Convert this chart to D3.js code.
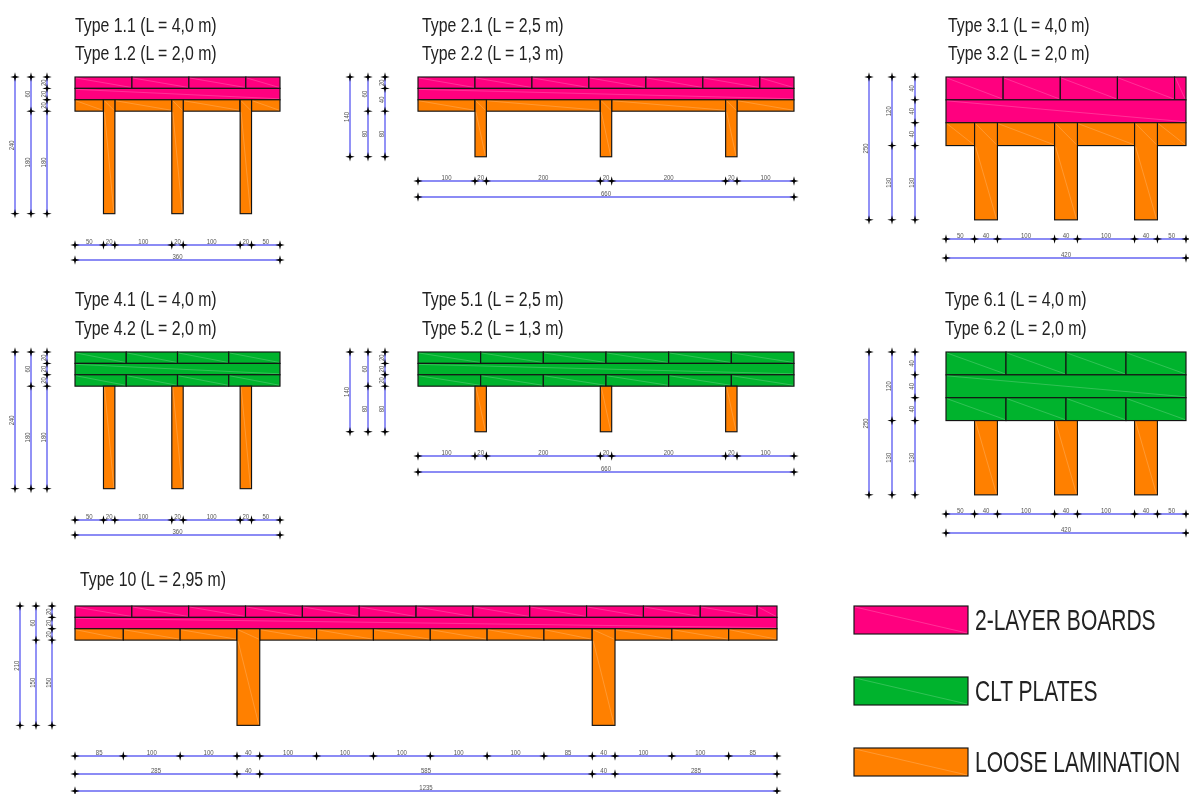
<!DOCTYPE html>
<html>
<head>
<meta charset="utf-8">
<script src="https://cdn.jsdelivr.net/npm/d3@7"></script>
<style>
  html, body { margin: 0; padding: 0; background: #fff; }
  svg { display: block; filter: blur(0.4px); }
  text { font-family: "Liberation Sans", sans-serif; }
</style>
</head>
<body>
<svg id="chart" width="1189" height="794"></svg>
<script>
// ------------------------------------
// Section data (all values in mm, as dimensioned on the drawing)
// ------------------------------------
const PINK = "boards", GREEN = "clt", ORANGE = "lam";

const type1Titles = ["Type 1.1 (L = 4,0 m)", "Type 1.2 (L = 2,0 m)"];
const type1Layers = [[100, 100, 100, 60], [360], [50, 20, 100, 20, 100, 20, 50]];
const type1Thick = [20, 20, 20];
const type1Webs = [50, 170, 290];
const type1VDims = [[240], [60, 180], [20, 20, 20, 180]];
const type1HDims = [[50, 20, 100, 20, 100, 20, 50], [360]];

const type2Titles = ["Type 2.1 (L = 2,5 m)", "Type 2.2 (L = 1,3 m)"];
const type2Layers = [[100, 100, 100, 100, 100, 100, 60], [660], [100, 20, 200, 20, 200, 20, 100]];
const type2Thick = [20, 20, 20];
const type2Webs = [100, 320, 540];
const type2VDims = [[140], [60, 80], [20, 40, 80]];
const type2HDims = [[100, 20, 200, 20, 200, 20, 100], [660]];

const type3Titles = ["Type 3.1 (L = 4,0 m)", "Type 3.2 (L = 2,0 m)"];
const type3Layers = [[100, 100, 100, 100, 20], [420], [50, 40, 100, 40, 100, 40, 50]];
const type3Thick = [40, 40, 40];
const type3Webs = [50, 190, 330];
const type3VDims = [[250], [120, 130], [40, 40, 40, 130]];
const type3HDims = [[50, 40, 100, 40, 100, 40, 50], [420]];

const type4Titles = ["Type 4.1 (L = 4,0 m)", "Type 4.2 (L = 2,0 m)"];
const type4Layers = [[90, 90, 90, 90], [360], [90, 90, 90, 90]];
const type4Thick = [20, 20, 20];
const type4Webs = [50, 170, 290];
const type4VDims = [[240], [60, 180], [20, 20, 20, 180]];
const type4HDims = [[50, 20, 100, 20, 100, 20, 50], [360]];

const type5Titles = ["Type 5.1 (L = 2,5 m)", "Type 5.2 (L = 1,3 m)"];
const type5Layers = [[110, 110, 110, 110, 110, 110], [660], [110, 110, 110, 110, 110, 110]];
const type5Thick = [20, 20, 20];
const type5Webs = [100, 320, 540];
const type5VDims = [[140], [60, 80], [20, 20, 20, 80]];
const type5HDims = [[100, 20, 200, 20, 200, 20, 100], [660]];

const type6Titles = ["Type 6.1 (L = 4,0 m)", "Type 6.2 (L = 2,0 m)"];
const type6Layers = [[105, 105, 105, 105], [420], [105, 105, 105, 105]];
const type6Thick = [40, 40, 40];
const type6Webs = [50, 190, 330];
const type6VDims = [[250], [120, 130], [40, 40, 40, 130]];
const type6HDims = [[50, 40, 100, 40, 100, 40, 50], [420]];

const type10Titles = ["Type 10 (L = 2,95 m)"];
const type10Layers = [
  [100, 100, 100, 100, 100, 100, 100, 100, 100, 100, 100, 100, 35],
  [1235],
  [85, 100, 100, 40, 100, 100, 100, 100, 100, 85, 40, 100, 100, 85]
];
const type10Thick = [20, 20, 20];
const type10Webs = [285, 910];
const type10VDims = [[210], [60, 150], [20, 20, 20, 150]];
const type10HDims = [
  [85, 100, 100, 40, 100, 100, 100, 100, 100, 85, 40, 100, 100, 85],
  [285, 40, 585, 40, 285],
  [1235]
];

const legendLabels = ["2-LAYER BOARDS", "CLT PLATES", "LOOSE LAMINATION"];
const legendKinds = [PINK, GREEN, ORANGE];

// ------------------------------------
// Styles and layout
// ------------------------------------
const fills = { boards: "#ff007f", clt: "#00b32d", lam: "#ff8000" };
const ink = "#141414";
const dimBlue = "#6464f2";
const squeeze = 0.755; // the drawing's lettering is a narrow face

const sections = [
  { titles: type1Titles, layers: type1Layers, thick: type1Thick, webs: type1Webs, webW: 20, webTop: 40, kinds: [PINK, PINK, ORANGE],
    vDims: type1VDims, hDims: type1HDims, xr: [75, 280], top: 77, vx: [15, 31, 47], hy: [245, 260], tx: 75, ty: [32, 60] },
  { titles: type2Titles, layers: type2Layers, thick: type2Thick, webs: type2Webs, webW: 20, webTop: 40, kinds: [PINK, PINK, ORANGE],
    vDims: type2VDims, hDims: type2HDims, xr: [418, 794], top: 77, vx: [350, 368, 385], hy: [181, 197], tx: 422, ty: [32, 60] },
  { titles: type3Titles, layers: type3Layers, thick: type3Thick, webs: type3Webs, webW: 40, webTop: 80, kinds: [PINK, PINK, ORANGE],
    vDims: type3VDims, hDims: type3HDims, xr: [946, 1186], top: 77, vx: [869, 892, 915], hy: [239, 258], tx: 948, ty: [32, 60] },
  { titles: type4Titles, layers: type4Layers, thick: type4Thick, webs: type4Webs, webW: 20, webTop: 60, kinds: [GREEN, GREEN, GREEN],
    vDims: type4VDims, hDims: type4HDims, xr: [75, 280], top: 352, vx: [15, 31, 47], hy: [520, 535], tx: 75, ty: [306, 335] },
  { titles: type5Titles, layers: type5Layers, thick: type5Thick, webs: type5Webs, webW: 20, webTop: 60, kinds: [GREEN, GREEN, GREEN],
    vDims: type5VDims, hDims: type5HDims, xr: [418, 794], top: 352, vx: [350, 368, 385], hy: [456, 472], tx: 422, ty: [306, 335] },
  { titles: type6Titles, layers: type6Layers, thick: type6Thick, webs: type6Webs, webW: 40, webTop: 120, kinds: [GREEN, GREEN, GREEN],
    vDims: type6VDims, hDims: type6HDims, xr: [946, 1186], top: 352, vx: [869, 892, 915], hy: [514, 533], tx: 945, ty: [306, 335] },
  { titles: type10Titles, layers: type10Layers, thick: type10Thick, webs: type10Webs, webW: 40, webTop: 40, kinds: [PINK, PINK, ORANGE],
    vDims: type10VDims, hDims: type10HDims, xr: [75, 777], top: 606, vx: [20, 36, 52], hy: [756, 774, 791], tx: 80, ty: [586] }
];

const svg = d3.select("#chart");

// little pinched cross used at every dimension node
const nodeMark = {
  draw(ctx, size) {
    const r = Math.sqrt(size), w = r * 0.2;
    ctx.moveTo(0, -r);
    ctx.lineTo(w, -w); ctx.lineTo(r, 0); ctx.lineTo(w, w);
    ctx.lineTo(0, r);
    ctx.lineTo(-w, w); ctx.lineTo(-r, 0); ctx.lineTo(-w, -w);
    ctx.closePath();
  }
};
const markPath = d3.symbol().type(nodeMark).size(22)();

// running totals: [50,20] -> [0,50,70]
const nodes = chain => [0, ...d3.cumsum(chain)];

function drawBox(g, x0, x1, y0, y1, kind, splitY) {
  g.append("rect")
    .attr("x", x0).attr("y", y0)
    .attr("width", x1 - x0).attr("height", y1 - y0)
    .attr("fill", fills[kind])
    .attr("stroke", ink)
    .attr("stroke-width", 1.15);

  // faint white seams left over from the fill triangulation
  const seams = splitY != null
    ? [[y0, splitY], [splitY, y1]]
    : [[y0, y1]];
  seams.forEach(([a, b]) => {
    g.append("line")
      .attr("x1", x0 + 1).attr("y1", a + 1)
      .attr("x2", x1 - 1).attr("y2", b - 1)
      .attr("stroke", "#fff")
      .attr("stroke-opacity", 0.28)
      .attr("stroke-width", 0.7);
  });
}

function drawSection(s) {
  const total = d3.sum(s.vDims[0]);
  const width = d3.sum(s.hDims[0]);
  const k = (s.xr[1] - s.xr[0]) / width;

  const x = d3.scaleLinear().domain([0, width]).range(s.xr);
  const y = d3.scaleLinear().domain([0, total]).range([s.top, s.top + total * k]);

  const g = svg.append("g");

  // titles
  g.selectAll("text.title")
    .data(s.titles)
    .join("text")
    .attr("class", "title")
    .attr("transform", (d, i) => `translate(${s.tx},${s.ty[i]}) scale(${squeeze},1)`)
    .attr("font-size", 21)
    .attr("fill", "#222")
    .text(d => d);

  // layers
  const levels = nodes(s.thick);
  s.layers.forEach((boards, i) => {
    const xs = nodes(boards);
    boards.forEach((b, j) => {
      drawBox(g, x(xs[j]), x(xs[j + 1]), y(levels[i]), y(levels[i + 1]), s.kinds[i]);
    });
  });

  // webs
  const flange = levels[levels.length - 1];
  s.webs.forEach(w => {
    drawBox(g, x(w), x(w + s.webW), y(s.webTop), y(total), ORANGE,
      s.webTop < flange ? y(flange) : null);
  });

  // vertical dimension chains
  s.vDims.forEach((chain, i) => {
    const px = s.vx[i];
    const ys = nodes(chain);
    g.append("line")
      .attr("x1", px).attr("x2", px)
      .attr("y1", y(0)).attr("y2", y(total))
      .attr("stroke", dimBlue).attr("stroke-width", 1.4);
    g.selectAll(null).data(ys).join("path")
      .attr("d", markPath)
      .attr("transform", d => `translate(${px},${y(d)})`)
      .attr("fill", "#000");
    chain.forEach((v, j) => {
      const my = y((ys[j] + ys[j + 1]) / 2);
      g.append("text")
        .attr("transform", `translate(${px - 1},${my}) rotate(-90) scale(${squeeze},1)`)
        .attr("text-anchor", "middle")
        .attr("font-size", 8)
        .attr("fill", "#555")
        .text(v);
    });
  });

  // horizontal dimension chains
  s.hDims.forEach((chain, i) => {
    const py = s.hy[i];
    const xs = nodes(chain);
    g.append("line")
      .attr("x1", x(0)).attr("x2", x(width))
      .attr("y1", py).attr("y2", py)
      .attr("stroke", dimBlue).attr("stroke-width", 1.4);
    g.selectAll(null).data(xs).join("path")
      .attr("d", markPath)
      .attr("transform", d => `translate(${x(d)},${py})`)
      .attr("fill", "#000");
    chain.forEach((v, j) => {
      g.append("text")
        .attr("transform", `translate(${x((xs[j] + xs[j + 1]) / 2)},${py - 1}) scale(${squeeze},1)`)
        .attr("text-anchor", "middle")
        .attr("font-size", 8)
        .attr("fill", "#555")
        .text(v);
    });
  });
}

sections.forEach(drawSection);

// ------------------------------------
// Legend
// ------------------------------------
const legendY = d3.scalePoint().domain(legendLabels).range([606, 748]);
const legend = svg.append("g");
legendLabels.forEach((label, i) => {
  drawBox(legend, 854, 968, legendY(label), legendY(label) + 28, legendKinds[i]);
  legend.append("text")
    .attr("transform", `translate(975,${legendY(label) + 24}) scale(0.725,1)`)
    .attr("font-size", 29)
    .attr("fill", "#222")
    .text(label);
});
</script>
</body>
</html>
